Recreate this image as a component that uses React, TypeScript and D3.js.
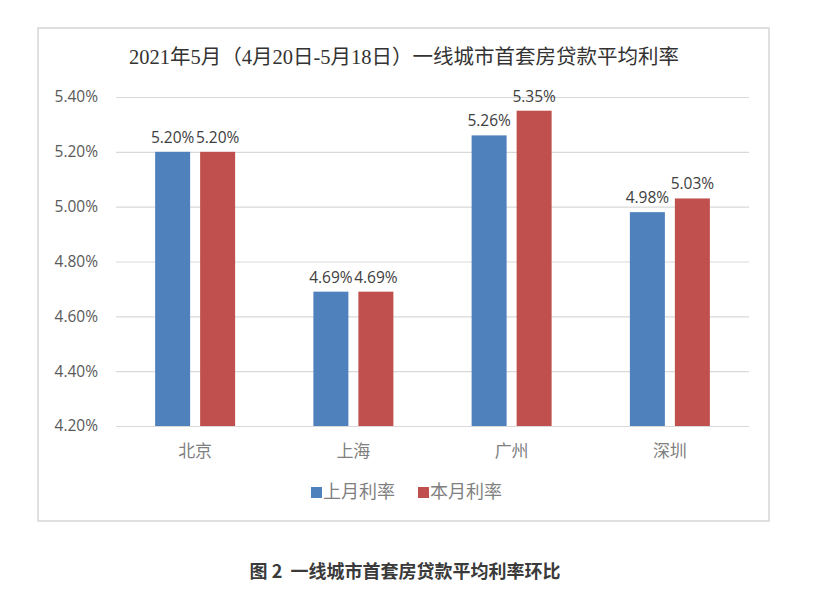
import { useEffect, useRef } from "react";
import * as d3 from "d3";

const cities = ["北京", "上海", "广州", "深圳"];
const lastMonth = [5.2, 4.69, 5.26, 4.98];
const thisMonth = [5.2, 4.69, 5.35, 5.03];
const seriesNames = ["上月利率", "本月利率"];
const yTicks = [4.2, 4.4, 4.6, 4.8, 5.0, 5.2, 5.4];

const width = 836;
const height = 590;
const colors = ["#4F81BD", "#C0504D"];
const numFont = "'Open Sans', 'DejaVu Sans', sans-serif";

export default function App() {
  const gy = useRef<SVGGElement>(null);

  const x = d3.scaleBand().domain(cities).range([116, 749]).padding(0);
  const sub = d3.scaleBand().domain(["0", "1"]).range([0, 80]).paddingInner(10 / 45).paddingOuter(0);
  const y = d3.scaleLinear().domain([4.2, 5.4]).range([426, 97]);

  useEffect(() => {
    const g = d3.select(gy.current!);
    g.selectAll("*").remove();
    g.call(
      d3
        .axisLeft(y)
        .tickValues(yTicks)
        .tickSize(-(749 - 116))
        .tickPadding(18)
        .tickFormat((d) => (d as number).toFixed(2) + "%")
    );
    g.select(".domain").remove();
    g.selectAll(".tick line").attr("stroke", "#d9d9d9").attr("stroke-width", 1.2);
    g.selectAll(".tick text")
      .attr("fill", "#595959")
      .attr("font-size", 15.5)
      .attr("font-family", numFont);
  }, []);

  const series = [lastMonth, thisMonth];

  return (
    <svg
      width={width}
      height={height}
      style={{ position: "absolute", left: 0, top: 0, background: "#fff" }}
    >
      <rect x={38} y={28} width={731} height={493} fill="#fff" stroke="#d6d6d6" strokeWidth={1.5} />
      <text
        x={404}
        y={64}
        textAnchor="middle"
        fontSize={20.5}
        fill="#333"
        fontFamily="'Liberation Serif', 'Noto Sans CJK SC', serif"
      >
        2021年5月（4月20日-5月18日）一线城市首套房贷款平均利率
      </text>
      <g ref={gy} transform={`translate(116,0)`} />
      {series.map((vals, si) =>
        cities.map((c, i) => {
          const bx = (x(c) ?? 0) + (x.bandwidth() - 80) / 2 + (sub(String(si)) ?? 0);
          return (
            <g key={c + si}>
              <rect
                x={bx}
                y={y(vals[i])}
                width={sub.bandwidth()}
                height={y(4.2) - y(vals[i])}
                fill={colors[si]}
              />
              <text
                x={bx + sub.bandwidth() / 2}
                y={y(vals[i]) - 9}
                textAnchor="middle"
                fontSize={15.5}
                fill="#404040"
                fontFamily={numFont}
              >
                {vals[i].toFixed(2) + "%"}
              </text>
            </g>
          );
        })
      )}
      {cities.map((c) => (
        <text
          key={c}
          x={(x(c) ?? 0) + x.bandwidth() / 2}
          y={452}
          textAnchor="middle"
          dominantBaseline="middle"
          fontSize={17}
          fill="#7f7f7f"
          fontFamily="'Noto Sans CJK SC', sans-serif"
        >
          {c}
        </text>
      ))}
      {seriesNames.map((n, i) => (
        <g key={n} transform={`translate(${311 + i * 107},493)`}>
          <rect x={0} y={-6} width={11} height={11} fill={colors[i]} />
          <text
            x={12}
            y={0}
            dominantBaseline="middle"
            fontSize={18}
            fill="#7f7f7f"
            fontFamily="'Noto Sans CJK SC', sans-serif"
          >
            {n}
          </text>
        </g>
      ))}
      <text
        x={405}
        y={578}
        textAnchor="middle"
        fontSize={18}
        fontWeight="bold"
        fill="#3a3a3a"
        fontFamily="'Noto Sans CJK SC', sans-serif"
        style={{ whiteSpace: "pre" }}
      >
        {"图 2  一线城市首套房贷款平均利率环比"}
      </text>
    </svg>
  );
}
